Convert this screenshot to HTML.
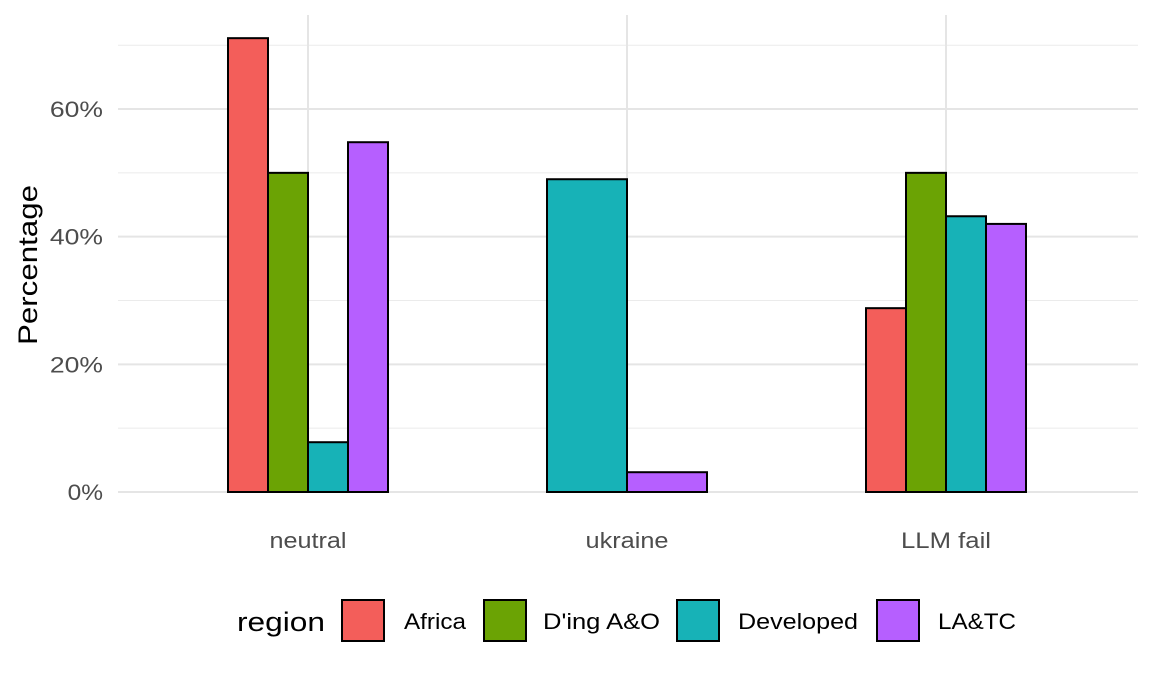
<!DOCTYPE html>
<html><head><meta charset="utf-8"><style>
body{margin:0;background:#fff;font-family:"Liberation Sans",sans-serif}
svg text{font-family:"Liberation Sans",sans-serif}
</style></head><body>
<svg id="chart" width="1152" height="672" xmlns="http://www.w3.org/2000/svg"></svg>
<script>
const categories=["neutral","ukraine","LLM fail"];
const regions=["Africa","D'ing A&O","Developed","LA&TC"];
const fills=["#F35E5A","#6BA304","#17B2B7","#B65FFF"];
const africa=[71.1,null,28.8];
const dingAO=[50,null,50];
const developed=[7.8,49.0,43.2];
const latc=[54.8,3.1,42.0];
const series=[africa,dingAO,developed,latc];
const yTicks=[0,20,40,60];
const yTickLabels=["0%","20%","40%","60%"];
const minorTicks=[10,30,50,70];

const svg=document.getElementById('chart');
const NS="http://www.w3.org/2000/svg";
function mk(t,a,p){const e=document.createElementNS(NS,t);for(const k in a)e.setAttribute(k,a[k]);(p||svg).appendChild(e);return e;}
const y0=492,pxPer=6.383;
const y=v=>y0-v*pxPer;
const xc=i=>308+i*319;
const groupW=160;
const xLabW=[77,83,90];

minorTicks.forEach(t=>{const l=mk('line',{x1:118,x2:1138,y1:y(t),y2:y(t),stroke:'#ebebeb','stroke-width':1});
});
yTicks.forEach((t,i)=>{const l=mk('line',{x1:118,x2:1138,y1:y(t),y2:y(t),stroke:'#e5e5e5','stroke-width':2});

const w=yTickLabels[i].length*17.7;
const tx=mk('text',{x:103-w,y:y(t)+8,'font-size':22,fill:'#4d4d4d',textLength:w,lengthAdjust:'spacingAndGlyphs'});tx.textContent=yTickLabels[i];
});
categories.forEach((c,i)=>{const l=mk('line',{x1:xc(i),x2:xc(i),y1:15,y2:492,stroke:'#e5e5e5','stroke-width':2});

const tx=mk('text',{x:xc(i)-xLabW[i]/2,y:548,'font-size':22,fill:'#4d4d4d',textLength:xLabW[i],lengthAdjust:'spacingAndGlyphs'});tx.textContent=c;
});
categories.forEach((c,i)=>{
  const present=series.map((s,j)=>j).filter(j=>series[j][i]!=null);
  const w=groupW/present.length;
  present.forEach((j,k)=>{const v=series[j][i];
    const r=mk('rect',{x:xc(i)-groupW/2+k*w,y:y(v),width:w,height:y0-y(v),fill:fills[j],stroke:'#000','stroke-width':2});
    });
});
const yt=mk('text',{x:-345,y:0,transform:'translate(37,0) rotate(-90)','font-size':27,fill:'#000',textLength:160,lengthAdjust:'spacingAndGlyphs'});
yt.setAttribute('transform','rotate(-90) translate(0,37)');
yt.textContent='Percentage';
const lt=mk('text',{x:237,y:631,'font-size':27,fill:'#000',textLength:88,lengthAdjust:'spacingAndGlyphs'});lt.textContent='region';

const lx=[342,484,677,877];
const labX=[404,543,738,938];
const labW=[62,117,120,78];
regions.forEach((r,i)=>{const g=mk('g',{});
  mk('rect',{x:lx[i],y:600,width:42,height:41,fill:fills[i],stroke:'#000','stroke-width':2},g);
  const t=mk('text',{x:labX[i],y:629,'font-size':22,fill:'#000',textLength:labW[i],lengthAdjust:'spacingAndGlyphs'},g);t.textContent=r;});
</script>
</body></html>
